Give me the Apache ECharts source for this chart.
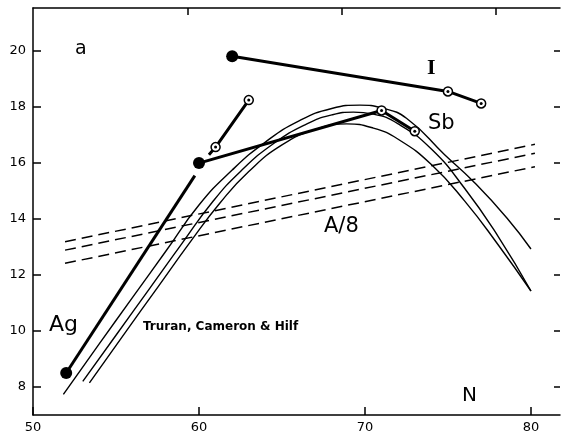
<!DOCTYPE html>
<html>
<head>
<meta charset="utf-8">
<script src="https://cdn.jsdelivr.net/npm/echarts@6/dist/echarts.min.js"></script>
<style>
html,body{margin:0;padding:0;background:#fff;}
#chart{width:561px;height:434px;}
</style>
</head>
<body>
<div id="chart"></div>
<script>
// ---- data ----
var xTicks = [50, 60, 70, 80];
var topTicks = [60, 70, 80];
var yTicks = [8, 10, 12, 14, 16, 18, 20];

// measured isotopes (thick lines); filled = first point, open circles = others
var agLow = [[52, 8.5], [59.75, 15.55]];
var agHigh = [[60.6, 16.3], [61, 16.57], [63, 18.25]];
var sbLine = [[60, 16.0], [71, 17.88], [73, 17.14]];
var iLine = [[62, 19.82], [75, 18.56], [77, 18.13]];
var filledPts = [[52, 8.5], [60, 16.0], [62, 19.82]];
var openPts = [[61, 16.57], [63, 18.25], [71, 17.88], [73, 17.14], [75, 18.56], [77, 18.13]];

// Truran, Cameron & Hilf curves
var tch1 = [[51.83, 7.74], [54, 9.55], [56, 11.2], [58, 12.85], [60, 14.5], [62, 15.75], [64, 16.75], [66, 17.5], [68, 17.95], [69.7, 18.07], [71, 17.97], [72.5, 17.6], [74.8, 16.3], [76.5, 15.36], [78.55, 14.04], [80, 12.93]];
var tch2 = [[53.0, 8.2], [55, 9.85], [57, 11.5], [59, 13.15], [60.8, 14.6], [62.5, 15.7], [64.5, 16.7], [66.5, 17.4], [68, 17.72], [69.3, 17.82], [70.5, 17.75], [72, 17.4], [74, 16.5], [76, 15.1], [78, 13.4], [80, 11.43]];
var tch3 = [[53.4, 8.15], [55.5, 9.9], [57.5, 11.55], [59.5, 13.2], [61.3, 14.6], [63, 15.7], [65, 16.65], [67, 17.2], [68.9, 17.4], [70.5, 17.25], [72, 16.85], [74, 15.95], [76, 14.65], [78, 13.1], [80, 11.43]];

// A/8 dashed lines
var a8Top = [[51.93, 13.19], [80.24, 16.67]];
var a8Mid = [[51.93, 12.89], [80.24, 16.35]];
var a8Low = [[51.93, 12.42], [80.24, 15.87]];

// ---- chart ----
var FONT = 'DejaVu Sans';
var chart = echarts.init(document.getElementById('chart'));

function thick(data) {
  return {type: 'line', data: data, showSymbol: false, symbol: 'none', z: 4,
    lineStyle: {color: '#000', width: 3}, silent: true};
}
function thin(data) {
  return {type: 'line', data: data, showSymbol: false, symbol: 'none', smooth: 0.5, z: 3,
    lineStyle: {color: '#000', width: 1.4}, silent: true};
}
function dashed(data) {
  return {type: 'line', data: data, showSymbol: false, symbol: 'none', z: 3,
    lineStyle: {color: '#000', width: 1.5, type: [11, 6]}, silent: true};
}

var axisLineStyle = {show: true, lineStyle: {color: '#000', width: 1.5}};

var option = {
  animation: false,
  backgroundColor: '#fff',
  grid: {left: 33, right: 1, top: 8, bottom: 19, containLabel: false},
  xAxis: [
    {type: 'value', position: 'bottom', min: 50, max: 81.75,
      axisLine: axisLineStyle, splitLine: {show: false},
      axisTick: {show: true, inside: true, length: 8, customValues: xTicks, lineStyle: {color: '#000', width: 1.5}},
      axisLabel: {customValues: xTicks, color: '#000', fontFamily: FONT, fontSize: 13, margin: 6}},
    {type: 'value', position: 'top', min: 50, max: 84.15,
      axisLine: axisLineStyle, splitLine: {show: false},
      axisTick: {show: true, inside: true, length: 7, customValues: topTicks, lineStyle: {color: '#000', width: 1.5}},
      axisLabel: {show: false}}
  ],
  yAxis: [
    {type: 'value', position: 'left', min: 7, max: 21.54,
      axisLine: axisLineStyle, splitLine: {show: false},
      axisTick: {show: true, inside: true, length: 8, customValues: yTicks, lineStyle: {color: '#000', width: 1.5}},
      axisLabel: {customValues: yTicks, color: '#000', fontFamily: FONT, fontSize: 13, margin: 7}},
    {type: 'value', position: 'right', min: 7, max: 21.54,
      axisLine: {show: false}, splitLine: {show: false},
      axisTick: {show: true, inside: true, length: 6, customValues: yTicks, lineStyle: {color: '#000', width: 1.5}},
      axisLabel: {show: false}}
  ],
  series: [
    thin(tch1), thin(tch2), thin(tch3),
    dashed(a8Top), dashed(a8Mid), dashed(a8Low),
    thick(agLow), thick(agHigh), thick(sbLine), thick(iLine),
    {type: 'scatter', data: filledPts, symbol: 'circle', symbolSize: 12, z: 6,
      itemStyle: {color: '#000', opacity: 1}, silent: true},
    {type: 'scatter', data: openPts, symbol: 'circle', symbolSize: 9, z: 6,
      itemStyle: {color: '#fff', borderColor: '#000', borderWidth: 1.5, opacity: 1}, silent: true},
    {type: 'scatter', data: openPts, symbol: 'circle', symbolSize: 3, z: 7,
      itemStyle: {color: '#000', opacity: 1}, silent: true}
  ],
  graphic: [
    {type: 'text', left: 75, top: 40, style: {text: 'a', font: '19px "DejaVu Sans"', fill: '#000'}},
    {type: 'text', left: 49, top: 314, style: {text: 'Ag', font: '22px "DejaVu Sans"', fill: '#000'}},
    {type: 'text', left: 143, top: 321, style: {text: 'Truran, Cameron & Hilf', font: 'bold 12px "DejaVu Sans"', fill: '#000'}},
    {type: 'text', left: 427, top: 57, style: {text: 'I', font: 'bold 22px "Liberation Serif"', fill: '#000'}},
    {type: 'text', left: 428, top: 113, style: {text: 'Sb', font: '21px "DejaVu Sans"', fill: '#000'}},
    {type: 'text', left: 324, top: 216, style: {text: 'A/8', font: '21px "DejaVu Sans"', fill: '#000'}},
    {type: 'text', left: 462, top: 386, style: {text: 'N', font: '20px "DejaVu Sans"', fill: '#000'}}
  ]
};
chart.setOption(option);
</script>
</body>
</html>
